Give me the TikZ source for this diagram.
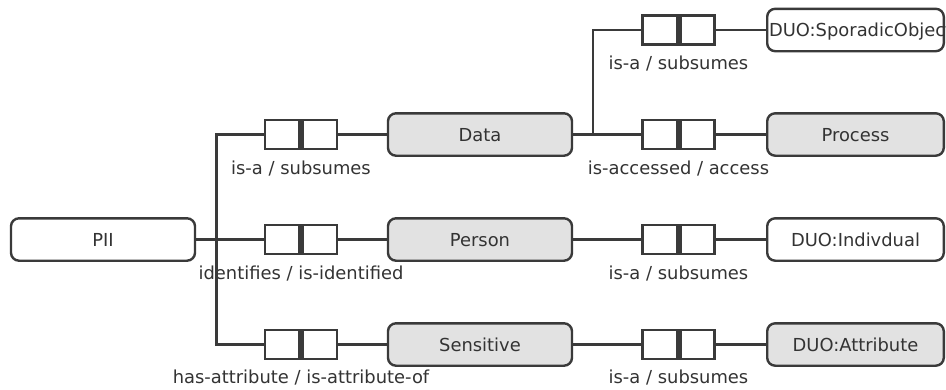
\documentclass[tikz,border=0pt]{standalone}
\usepackage{fontspec}
\setmainfont{DejaVu Sans}
\definecolor{edge}{HTML}{3A3A3A}
\definecolor{ink}{HTML}{333333}
\definecolor{shade}{HTML}{E2E2E2}
\begin{document}
\begin{tikzpicture}[x=1pt,y=-1pt,
  txt/.style={text=ink, font=\fontsize{17.9}{20}\selectfont},
  concept/.style={txt, draw=edge, line width=2.4pt, rounded corners=8pt,
    minimum height=42.4pt, inner sep=0pt, text height=13pt, text depth=0pt},
  wide/.style={concept, minimum width=184pt},
  narrow/.style={concept, minimum width=176.6pt},
  shaded/.style={fill=shade},
  plain/.style={fill=white},
  relbox/.style={draw=edge, fill=white, line width=2.4pt, minimum width=72pt,
    minimum height=29pt, inner sep=0pt,
    path picture={\draw[edge, line width=6pt]
      (path picture bounding box.north) -- (path picture bounding box.south);}},
  rellabel/.style={txt, anchor=base, inner sep=0pt},
  link/.style={draw=edge, line width=2.4pt}
]
\useasboundingbox (0,0) rectangle (946,389);

% concept nodes
\node[wide, plain]  (pii)       at (103,239.5)   {PII};
\node[wide, shaded] (data)      at (480,134.5)   {Data};
\node[wide, shaded] (person)    at (480,239.5)   {Person};
\node[wide, shaded] (sensitive) at (480,344.5)   {Sensitive};
\node[narrow, plain]  (sporadic)   at (855.5,30)    {\makebox[0pt][l]{\hspace{-86.5pt}DUO:SporadicObject}};
\node[narrow, shaded] (process)    at (855.5,134.5) {Process};
\node[narrow, plain]  (individual) at (855.5,239.5) {DUO:Indivdual};
\node[narrow, shaded] (attribute)  at (855.5,344.5) {DUO:Attribute};

% relation boxes
\node[relbox] (rA) at (301,134.5) {};
\node[relbox] (rB) at (301,239.5) {};
\node[relbox] (rC) at (301,344.5) {};
\node[relbox] (rD) at (678.5,30) {};
\node[relbox] (rE) at (678.5,134.5) {};
\node[relbox] (rF) at (678.5,239.5) {};
\node[relbox] (rG) at (678.5,344.5) {};

% relation labels
\node[rellabel] (lA) at (301,174)   {is-a / subsumes};
\node[rellabel] (lB) at (301,279)   {identifies / is-identified};
\node[rellabel] (lC) at (301,383)   {has-attribute / is-attribute-of};
\node[rellabel] (lD) at (678.5,69)  {is-a / subsumes};
\node[rellabel] (lE) at (678.5,174) {is-accessed / access};
\node[rellabel] (lF) at (678.5,279) {is-a / subsumes};
\node[rellabel] (lG) at (678.5,383) {is-a / subsumes};

% branch points
\coordinate (jTop) at (216.5,134.5);
\coordinate (jBot) at (216.5,344.5);
\coordinate (jData) at (593,134.5);
\coordinate (jUp) at (593,30);

% connectors
\path[link] (rA.west) -- (jTop) -- (jBot) -- (rC.west);
\path[link] (pii.east) -- (rB.west);
\path[link] (rA) -- (data);
\path[link] (rB) -- (person);
\path[link] (rC) -- (sensitive);
\path[link] (data.east) -- (rE.west);
\path[link] (jData) -- (jUp) -- (rD.west);
\path[link] (rD) -- (sporadic);
\path[link] (rE) -- (process);
\path[link] (person) -- (rF) -- (individual);
\path[link] (sensitive) -- (rG) -- (attribute);
\end{tikzpicture}
\end{document}
